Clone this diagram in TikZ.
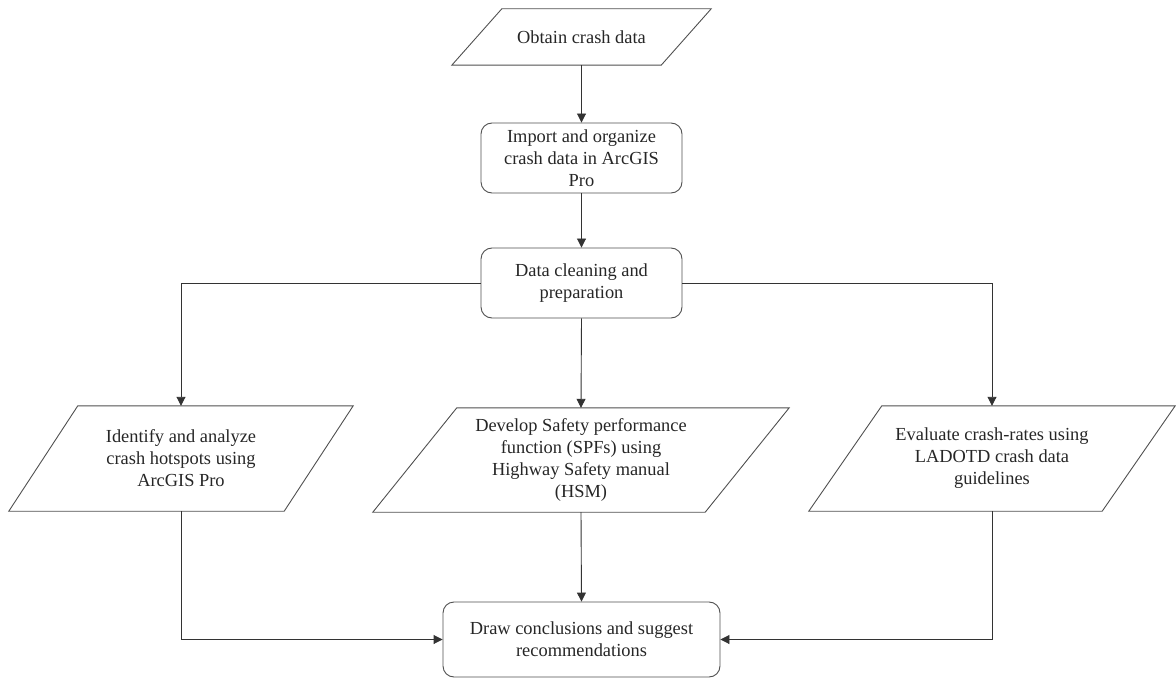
\documentclass[tikz,border=0pt]{standalone}
\usepackage{fontspec}
\setmainfont{Liberation Serif}
\usetikzlibrary{arrows.meta,calc}
\definecolor{linegray}{HTML}{505050}
\definecolor{textgray}{HTML}{262626}
\newcommand{\drawpara}[2]{\draw[shapeline] ($(#1.north west)+(#2,0)$) -- (#1.north east) -- ($(#1.south east)-(#2,0)$) -- (#1.south west) -- cycle;}
\tikzset{
  shapeline/.style={draw=linegray, line width=0.9pt},
  txt/.style={font=\fontsize{18.4}{22}\selectfont, text=textgray, align=center, inner sep=0pt},
  parabox/.style={txt, draw=none},
  roundbox/.style={txt, shapeline, rounded corners=11pt},
  arr/.style={draw=black!80, line width=0.9pt, -{Triangle[width=9pt,length=9pt]}},
}
\begin{document}
\begin{tikzpicture}[x=1pt,y=-1pt]
\useasboundingbox (0,0) rectangle (1176,679);
\node[parabox, minimum width=259, minimum height=56] (obtain) at (581.5,37) {Obtain crash data};
\node[roundbox, minimum width=201, minimum height=70] (import) at (581.5,158) {Import and organize\\crash data in ArcGIS\\Pro};
\node[roundbox, minimum width=201, minimum height=70] (clean) at (581.5,283) {Data cleaning and\\preparation};
\node[parabox, minimum width=344, minimum height=105] (ident) at (181,458.5) {Identify and analyze\\crash hotspots using\\ArcGIS Pro};
\node[parabox, minimum width=416, minimum height=104] (spf) at (581,460) {Develop Safety performance\\function (SPFs) using\\Highway Safety manual\\(HSM)};
\node[parabox, minimum width=366, minimum height=105] (eval) at (992,458.5) {Evaluate crash-rates using\\LADOTD crash data\\guidelines};
\node[roundbox, minimum width=277, minimum height=75] (concl) at (581.5,639.5) {Draw conclusions and suggest\\recommendations};
\drawpara{obtain}{50}
\drawpara{ident}{69}
\drawpara{spf}{84}
\drawpara{eval}{73}
\draw[arr] (obtain.south) -- (import.north);
\draw[arr] (import.south) -- (clean.north);
\draw[arr] (clean.west) -| (ident.north);
\draw[arr] (clean.south) -- (spf.north);
\draw[arr] (clean.east) -| (eval.north);
\draw[arr] (spf.south) -- (concl.north);
\draw[arr] (ident.south) |- (concl.west);
\draw[arr] (eval.south) |- (concl.east);
\end{tikzpicture}
\end{document}
